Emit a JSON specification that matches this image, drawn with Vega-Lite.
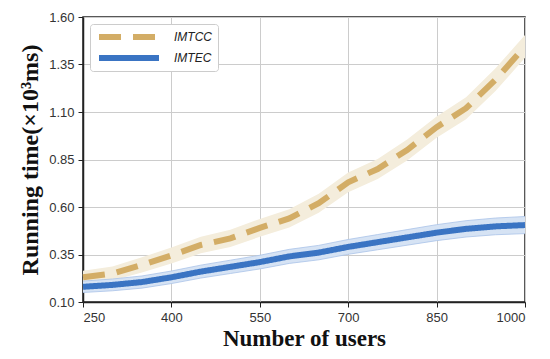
{
  "$schema": "https://vega.github.io/schema/vega-lite/v6.json",
  "width": 442,
  "height": 285,
  "autosize": {"type": "none"},
  "padding": {"left": 83, "top": 17, "right": 25, "bottom": 57},
  "config": {
    "view": {"stroke": "#222", "strokeWidth": 1.5},
    "axis": {
      "gridColor": "#cccccc",
      "gridWidth": 1,
      "domainColor": "#222",
      "domainWidth": 1.5,
      "tickColor": "#222",
      "tickSize": 5,
      "labelFont": "Liberation Sans",
      "labelFontSize": 13,
      "labelColor": "#333",
      "titleFont": "Liberation Serif",
      "titleFontSize": 23,
      "titleFontWeight": "bold",
      "titleColor": "#111"
    },
    "legend": {
      "orient": "top-left",
      "offset": 7,
      "padding": 6,
      "strokeColor": "#cccccc",
      "fillColor": "white",
      "cornerRadius": 3,
      "symbolType": "stroke",
      "symbolSize": 3600,
      "symbolStrokeWidth": 6,
      "clipHeight": 14,
      "labelFont": "Liberation Sans",
      "labelFontSize": 12,
      "labelFontStyle": "italic",
      "labelColor": "#222",
      "labelOffset": 12,
      "rowPadding": 7
    }
  },
  "data": {
    "values": [
      {"users": 250, "method": "IMTCC", "time": 0.23, "lo": 0.195, "hi": 0.265},
      {"users": 300, "method": "IMTCC", "time": 0.25, "lo": 0.213, "hi": 0.287},
      {"users": 350, "method": "IMTCC", "time": 0.295, "lo": 0.255, "hi": 0.335},
      {"users": 400, "method": "IMTCC", "time": 0.345, "lo": 0.303, "hi": 0.387},
      {"users": 450, "method": "IMTCC", "time": 0.4, "lo": 0.356, "hi": 0.444},
      {"users": 500, "method": "IMTCC", "time": 0.435, "lo": 0.39, "hi": 0.48},
      {"users": 550, "method": "IMTCC", "time": 0.49, "lo": 0.443, "hi": 0.537},
      {"users": 600, "method": "IMTCC", "time": 0.54, "lo": 0.492, "hi": 0.588},
      {"users": 650, "method": "IMTCC", "time": 0.62, "lo": 0.57, "hi": 0.67},
      {"users": 700, "method": "IMTCC", "time": 0.73, "lo": 0.678, "hi": 0.782},
      {"users": 750, "method": "IMTCC", "time": 0.8, "lo": 0.747, "hi": 0.853},
      {"users": 800, "method": "IMTCC", "time": 0.9, "lo": 0.845, "hi": 0.955},
      {"users": 850, "method": "IMTCC", "time": 1.02, "lo": 0.964, "hi": 1.076},
      {"users": 900, "method": "IMTCC", "time": 1.12, "lo": 1.062, "hi": 1.178},
      {"users": 950, "method": "IMTCC", "time": 1.27, "lo": 1.21, "hi": 1.33},
      {"users": 1000, "method": "IMTCC", "time": 1.445, "lo": 1.385, "hi": 1.505},
      {"users": 250, "method": "IMTEC", "time": 0.18, "lo": 0.15, "hi": 0.21},
      {"users": 300, "method": "IMTEC", "time": 0.19, "lo": 0.159, "hi": 0.221},
      {"users": 350, "method": "IMTEC", "time": 0.205, "lo": 0.173, "hi": 0.237},
      {"users": 400, "method": "IMTEC", "time": 0.23, "lo": 0.197, "hi": 0.263},
      {"users": 450, "method": "IMTEC", "time": 0.26, "lo": 0.226, "hi": 0.294},
      {"users": 500, "method": "IMTEC", "time": 0.285, "lo": 0.25, "hi": 0.32},
      {"users": 550, "method": "IMTEC", "time": 0.31, "lo": 0.274, "hi": 0.346},
      {"users": 600, "method": "IMTEC", "time": 0.34, "lo": 0.303, "hi": 0.377},
      {"users": 650, "method": "IMTEC", "time": 0.36, "lo": 0.322, "hi": 0.398},
      {"users": 700, "method": "IMTEC", "time": 0.39, "lo": 0.351, "hi": 0.429},
      {"users": 750, "method": "IMTEC", "time": 0.415, "lo": 0.375, "hi": 0.455},
      {"users": 800, "method": "IMTEC", "time": 0.44, "lo": 0.399, "hi": 0.481},
      {"users": 850, "method": "IMTEC", "time": 0.465, "lo": 0.423, "hi": 0.507},
      {"users": 900, "method": "IMTEC", "time": 0.485, "lo": 0.442, "hi": 0.528},
      {"users": 950, "method": "IMTEC", "time": 0.498, "lo": 0.454, "hi": 0.542},
      {"users": 1000, "method": "IMTEC", "time": 0.505, "lo": 0.46, "hi": 0.55}
    ]
  },
  "encoding": {
    "x": {
      "field": "users",
      "type": "quantitative",
      "scale": {"domain": [250, 1000], "nice": false, "zero": false},
      "axis": {"values": [250, 400, 550, 700, 850, 1000], "format": "d", "title": "Number of users", "titlePadding": 3, "labelPadding": 4}
    }
  },
  "layer": [
    {
      "transform": [{"filter": "datum.method === 'IMTCC'"}],
      "mark": {"type": "area", "color": "#f4eddc"},
      "encoding": {
        "y": {
          "field": "lo",
          "type": "quantitative",
          "scale": {"domain": [0.1, 1.6], "nice": false, "zero": false},
          "axis": {"values": [0.1, 0.35, 0.6, 0.85, 1.1, 1.35, 1.6], "format": ".2f", "title": "Running time(×10³ms)", "titlePadding": 6, "labelPadding": 4, "titleFontSize": 24}
        },
        "y2": {"field": "hi"}
      }
    },
    {
      "transform": [{"filter": "datum.method === 'IMTEC'"}],
      "mark": {"type": "area", "color": "#d6e3f4"},
      "encoding": {
        "y": {"field": "lo", "type": "quantitative"},
        "y2": {"field": "hi"}
      }
    },
    {
      "transform": [{"filter": "datum.method === 'IMTEC'"}],
      "mark": {"type": "line", "strokeWidth": 0.8, "color": "#a9c3e8"},
      "encoding": {"y": {"field": "lo", "type": "quantitative"}}
    },
    {
      "transform": [{"filter": "datum.method === 'IMTEC'"}],
      "mark": {"type": "line", "strokeWidth": 0.8, "color": "#a9c3e8"},
      "encoding": {"y": {"field": "hi", "type": "quantitative"}}
    },
    {
      "mark": {"type": "line", "strokeWidth": 6, "strokeCap": "butt"},
      "encoding": {
        "y": {"field": "time", "type": "quantitative"},
        "color": {
          "field": "method",
          "type": "nominal",
          "scale": {"domain": ["IMTCC", "IMTEC"], "range": ["#d3ad66", "#3a74c3"]},
          "legend": {"title": null}
        },
        "strokeDash": {
          "field": "method",
          "type": "nominal",
          "scale": {"domain": ["IMTCC", "IMTEC"], "range": [[22, 12], [1, 0]]},
          "legend": {"title": null}
        }
      }
    }
  ]
}
